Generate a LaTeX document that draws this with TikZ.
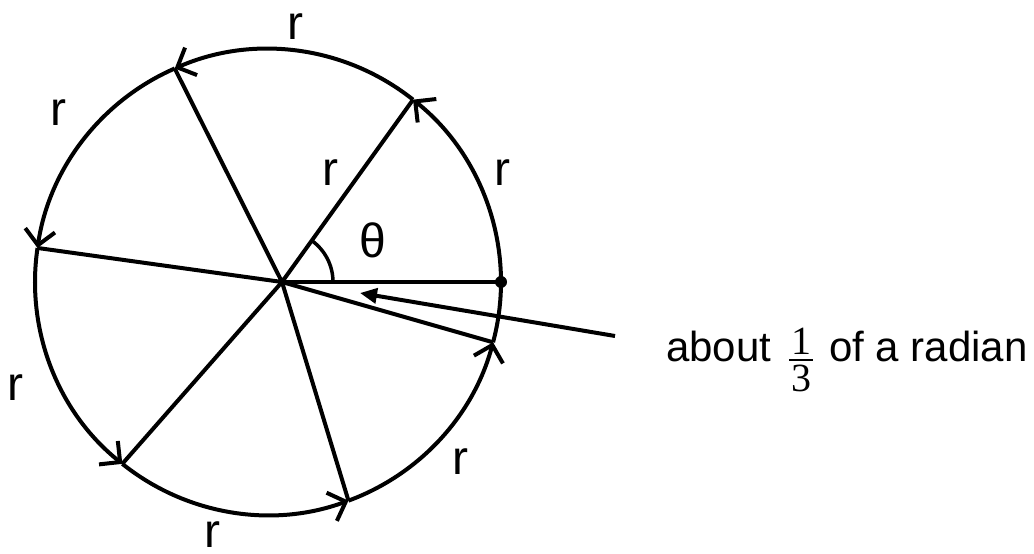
\documentclass[tikz,border=0pt]{standalone}
\usepackage[no-math]{fontspec}
\setmainfont{Liberation Sans}
\newfontfamily\lserif{Liberation Serif}
\usetikzlibrary{arrows.meta,calc}
\begin{document}
\begin{tikzpicture}[x=1pt,y=1pt,
  ln/.style={line width=4pt},
  arcarrow/.style={ln,-{Straight Barb[length=15pt,width=30pt]}},
  lbl/.style={inner sep=0pt,font=\fontsize{48}{50}\selectfont},
  ann/.style={inner sep=0pt,font=\fontsize{42}{44}\selectfont},
  digit/.style={inner sep=0pt,font=\fontsize{40}{42}\selectfont\lserif},
  dot/.style={circle,fill=black,inner sep=0pt,minimum size=#1},
]
\useasboundingbox (0,0) rectangle (1034,554);
\coordinate (C) at (268,272);
\node[dot=9pt] (O) at (282,272) {};
\path (C) ++(0:233) coordinate (P0);
\path (C) ++(51.5:233) coordinate (P1);
\path (C) ++(113.6:233) coordinate (P2);
\path (C) ++(171.6:233) coordinate (P3);
\path (C) ++(231.3:233) coordinate (P4);
\path (C) ++(290.2:233) coordinate (P5);
\path (C) ++(345:233) coordinate (P6);
% circle arcs of length r
\draw[arcarrow] (P0) arc[start angle=0,end angle=51.5,radius=233];
\draw[arcarrow] (P1) arc[start angle=51.5,end angle=113.6,radius=233];
\draw[arcarrow] (P2) arc[start angle=113.6,end angle=171.6,radius=233];
\draw[arcarrow] (P3) arc[start angle=171.6,end angle=231.3,radius=233];
\draw[arcarrow] (P4) arc[start angle=231.3,end angle=290.2,radius=233];
\draw[arcarrow] (P5) arc[start angle=290.2,end angle=345,radius=233];
\draw[ln] (P6) arc[start angle=345,end angle=360,radius=233];
% radii
\foreach \p in {P0,P1,P2,P3,P4,P5,P6} \draw[ln] (O.center) -- (\p);
\node[dot=12pt] (E) at (P0) {};
% angle theta
\draw[line width=3.5pt] ($(O.center)+(51,0)$) arc[start angle=0,end angle=54,radius=51];
% annotation arrow
\coordinate (A1) at (615,218);
\coordinate (A2) at (360,261);
\draw[ln,-{Triangle[length=17pt,width=15pt]}] (A1) -- (A2);
% labels
\node[lbl] (r1) at (295,527) {r};
\node[lbl] (r2) at (58,441) {r};
\node[lbl] (r3) at (330,381) {r};
\node[lbl] (r4) at (502,381) {r};
\node[lbl] (r5) at (15,166) {r};
\node[lbl] (r6) at (460,92) {r};
\node[lbl] (r7) at (212,19) {r};
\node[lbl] (th) at (373,314) {θ};
% annotation text
\node[ann,anchor=base west] (about) at (666,192) {about};
\node[digit,anchor=base] (num) at (801,199) {1};
\coordinate (barL) at (789,194);
\coordinate (barR) at (813,194);
\draw[line width=1.8pt] (barL) -- (barR);
\node[digit,anchor=base] (den) at (801,162) {3};
\node[ann,anchor=base west] (ofa) at (829,192) {of a radian};
\end{tikzpicture}
\end{document}
